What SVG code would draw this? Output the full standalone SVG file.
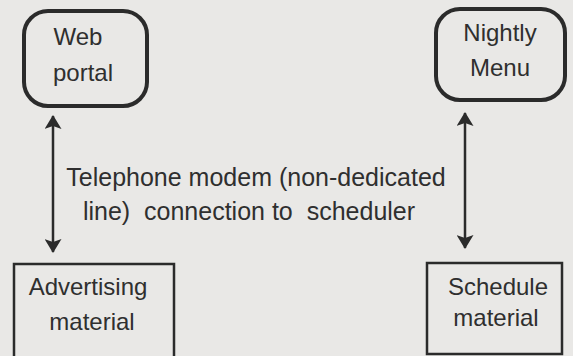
<svg xmlns="http://www.w3.org/2000/svg" width="573" height="356" viewBox="0 0 573 356">
<defs>
<marker id="ah" viewBox="0 0 14 17" refX="13" refY="8.5" markerWidth="14" markerHeight="17" markerUnits="userSpaceOnUse" orient="auto-start-reverse">
<path d="M0,0 L14,8.5 L0,17 L3,8.5 Z" fill="#2b2b2b"/>
</marker>
<style>
.t{font-family:"Liberation Sans",Arial,sans-serif;font-size:24px;fill:#2f2f2f;text-anchor:middle}
.l{font-size:25px}
.rb{fill:none;stroke:#2b2b2b;stroke-width:4}
.sb{fill:none;stroke:#2b2b2b;stroke-width:2.5}
.c{stroke:#2b2b2b;stroke-width:2.5;fill:none}
</style>
</defs>
<rect width="573" height="356" fill="#e9e8e6"/>
<g id="connectors">
<line class="c" x1="53" y1="116" x2="53" y2="252" marker-start="url(#ah)" marker-end="url(#ah)"/>
<line class="c" x1="465" y1="113" x2="465" y2="248" marker-start="url(#ah)" marker-end="url(#ah)"/>
</g>
<g id="web-portal">
<rect class="rb" x="24" y="11" width="123" height="95" rx="24"/>
<text class="t" x="78" y="45">Web</text>
<text class="t" x="83" y="81">portal</text>
</g>
<g id="nightly-menu">
<rect class="rb" x="436" y="9" width="129" height="91" rx="24"/>
<text class="t" x="500" y="41">Nightly</text>
<text class="t" x="500" y="76">Menu</text>
</g>
<g id="label">
<text class="t l" x="256" y="186">Telephone modem (non-dedicated</text>
<text class="t l" x="249" y="220" xml:space="preserve">line)  connection to  scheduler</text>
</g>
<g id="advertising-material">
<rect class="sb" x="14" y="264" width="160" height="100"/>
<text class="t" x="88" y="295">Advertising</text>
<text class="t" x="92" y="330">material</text>
</g>
<g id="schedule-material">
<rect class="sb" x="427" y="263" width="135" height="91"/>
<text class="t" x="498" y="295">Schedule</text>
<text class="t" x="496" y="326">material</text>
</g>
</svg>
